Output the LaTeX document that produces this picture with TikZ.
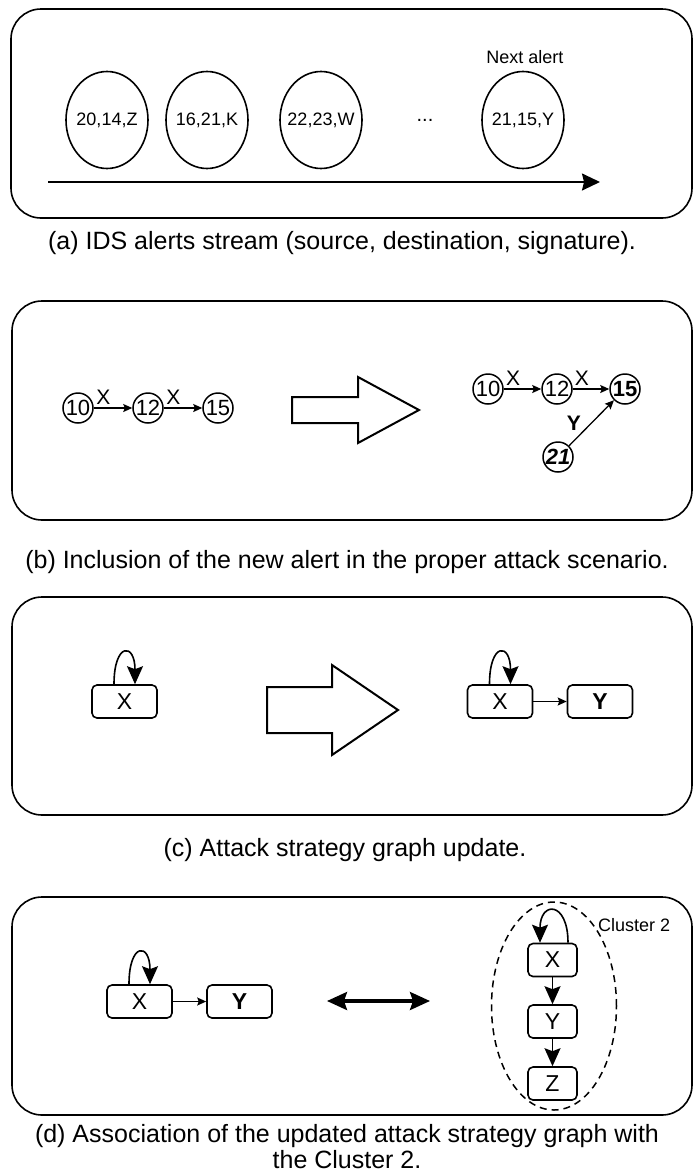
\documentclass[tikz,border=0pt]{standalone}
\usepackage{fontspec}
\setmainfont{Liberation Sans}
\usetikzlibrary{arrows.meta,shapes.geometric}

\tikzset{
    panel/.style={line width=1.6pt, rounded corners=30pt},
    alert/.style={draw, ellipse, line width=1.6pt, minimum width=82pt, minimum height=97pt, inner xsep=-12pt, inner ysep=0pt, font=\fontsize{18}{21}\selectfont},
    vtx/.style={draw, circle, line width=1.5pt, minimum size=30pt, inner sep=-2pt, font=\fontsize{22}{24}\selectfont},
    lbl/.style={font=\fontsize{21}{23}\selectfont, inner sep=1pt},
    flow/.style={line width=1.3pt, -{Stealth[length=9pt,width=8pt,inset=1.5pt]}},
    stratbox/.style={draw, rounded corners=5pt, line width=1.6pt, minimum width=65pt, minimum height=33pt, inner sep=0pt, font=\fontsize{23}{25}\selectfont},
    bigtip/.style={-{Stealth[length=18pt,width=16pt,inset=3pt]}},
    loopedge/.style={line width=1.6pt, bigtip},
    blockarrow/.style={line width=2pt, line join=miter},
    caption/.style={font=\fontsize{25}{26}\selectfont, align=center}
}

\begin{document}
\begin{tikzpicture}[x=1pt, y=-1pt]
    \useasboundingbox (0,0) rectangle (694,1173);

    % (a) alert stream
    \draw[panel] (11,9) rectangle (692,218);
    \foreach \x/\t [count=\i] in {107/{20,14,Z},207/{16,21,K},321/{22,23,W},523/{21,15,Y}}
        \node[alert] (al\i) at (\x,120) {\t};
    \node[lbl, font=\fontsize{20}{23}\selectfont] (dots) at (425,120) {...};
    \node[lbl, font=\fontsize{18}{21}\selectfont] (next) at (525,57) {Next alert};
    \coordinate (ts) at (48,182);
    \coordinate (te) at (600,182);
    \draw[line width=1.8pt, -{Stealth[length=18pt,width=17pt,inset=2pt]}] (ts) -- (te);
    \node[caption] (capa) at (342,243) {(a) IDS alerts stream (source, destination, signature).};

    % (b) attack scenario before / after
    \draw[panel] (12,301) rectangle (692,520);
    \node[vtx] (b10) at (78,408) {10};
    \node[vtx] (b12) at (148,408) {12};
    \node[vtx] (b15) at (218,408) {15};
    \draw[flow] (b10) -- node[lbl, pos=0.25, above=2pt] {X} (b12);
    \draw[flow] (b12) -- node[lbl, pos=0.25, above=2pt] {X} (b15);
    \draw[blockarrow] (292,397) -- (358,397) -- (358,377) -- (419,410) -- (358,443) -- (358,423) -- (292,423) -- cycle;
    \node[vtx] (n10) at (488,389) {10};
    \node[vtx] (n12) at (557,389) {12};
    \node[vtx] (n15) at (625,389) {\textbf{15}};
    \node[vtx] (n21) at (558,457) {\textbf{\textit{21}}};
    \draw[flow] (n10) -- node[lbl, pos=0.25, above=2pt] {X} (n12);
    \draw[flow] (n12) -- node[lbl, pos=0.25, above=2pt] {X} (n15);
    \draw[flow] (n21) -- node[lbl, pos=0.3, above left] {\textbf{Y}} (n15);
    \node[caption] (capb) at (347,562) {(b) Inclusion of the new alert in the proper attack scenario.};

    % (c) strategy graph update
    \draw[panel] (12,597) rectangle (692,815);
    \node[stratbox] (cx) at (124.5,701.5) {X};
    \draw[loopedge] ([xshift=-10.5pt]cx.north) .. controls +(0,-42) and +(0,-42) .. ([xshift=10.5pt]cx.north);
    \draw[blockarrow] (267,687) -- (332,687) -- (332,665) -- (398,710) -- (332,755) -- (332,733) -- (267,733) -- cycle;
    \node[stratbox] (ux) at (500,701.5) {X};
    \node[stratbox] (uy) at (600,701.5) {\textbf{Y}};
    \draw[loopedge] ([xshift=-10.5pt]ux.north) .. controls +(0,-42) and +(0,-42) .. ([xshift=10.5pt]ux.north);
    \draw[flow] (ux) -- (uy);
    \node[caption] (capc) at (345,850) {(c) Attack strategy graph update.};

    % (d) match with cluster 2
    \draw[panel] (12,897) rectangle (692,1115);
    \node[stratbox] (dx) at (139.5,1001.5) {X};
    \node[stratbox] (dy) at (239.5,1001.5) {\textbf{Y}};
    \draw[loopedge] ([xshift=-10.5pt]dx.north) .. controls +(0,-42) and +(0,-42) .. ([xshift=10.5pt]dx.north);
    \draw[flow] (dx) -- (dy);
    \coordinate (ml) at (327,1001);
    \coordinate (mr) at (430,1001);
    \draw[line width=3.2pt, {Stealth[length=20pt,width=18pt,inset=3pt]}-{Stealth[length=20pt,width=18pt,inset=3pt]}] (ml) -- (mr);
    \node[draw, ellipse, line width=1.5pt, dash pattern=on 7pt off 5pt, minimum width=125pt, minimum height=208pt] (cl) at (554,1006) {};
    \node[lbl, anchor=west, font=\fontsize{18}{21}\selectfont] (cln) at (597,925) {Cluster 2};
    \node[stratbox, minimum width=49pt] (kx) at (552.5,960) {X};
    \node[stratbox, minimum width=49pt] (ky) at (552.5,1021.5) {Y};
    \node[stratbox, minimum width=49pt] (kz) at (552.5,1083.5) {Z};
    \draw[loopedge] ([xshift=15.5pt]kx.north) .. controls +(0,-42) and +(0,-42) .. ([xshift=-12.5pt]kx.north);
    \draw[loopedge] (kx) -- (ky);
    \draw[loopedge] (ky) -- (kz);
    \node[caption] (capd) at (347,1147) {(d) Association of the updated attack strategy graph with\\the Cluster 2.};
\end{tikzpicture}
\end{document}
